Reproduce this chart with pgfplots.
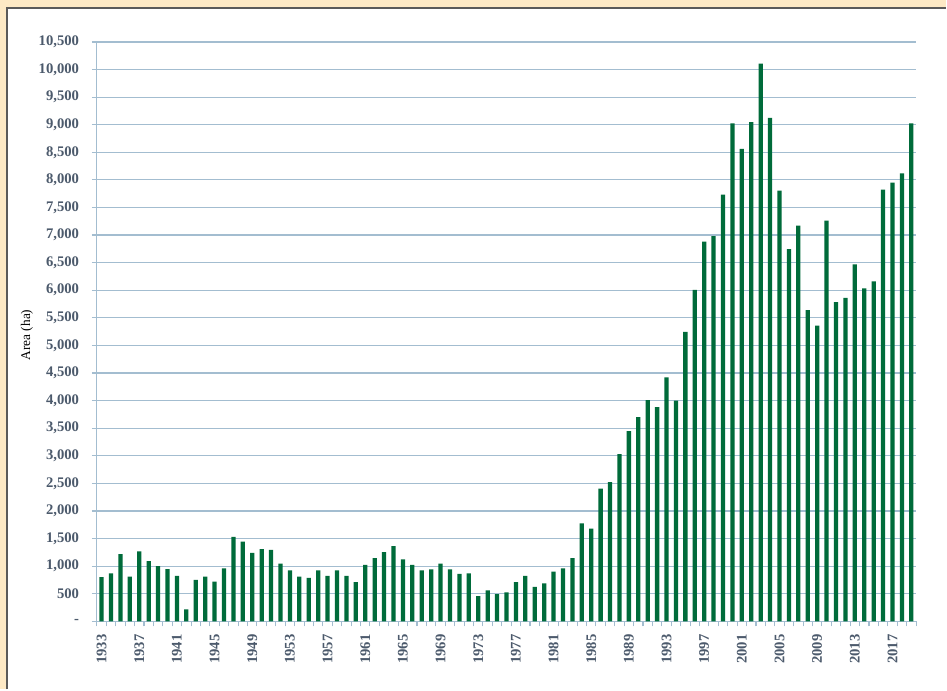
\documentclass[border=0pt]{standalone}
\usepackage{fontspec}
\setmainfont{Liberation Serif}
\usepackage{pgfplots}
\pgfplotsset{compat=1.18}
\definecolor{peach}{HTML}{FDE9C5}
\definecolor{barg}{HTML}{006B3A}
\definecolor{gridc}{HTML}{A3BDD0}
\definecolor{labc}{HTML}{4C5A6C}
\definecolor{frame}{HTML}{5A5A5A}
\begin{document}
\begin{tikzpicture}
\path[fill=peach] (-72.75pt,-51pt) rectangle (637.5pt,466.5pt);
\path[fill=white] (-67.5pt,-51pt) rectangle (637.5pt,460.5pt);
\draw[frame, line width=1.5pt] (-67.5pt,-51pt) -- (-67.5pt,460.5pt) -- (637.5pt,460.5pt);
\begin{axis}[
  at={(0,0)}, anchor=origin,
  scale only axis,
  width=615pt, height=435pt,
  xmin=1932.5, xmax=2019.5,
  ymin=0, ymax=10500,
  scaled y ticks=false,
  axis x line*=bottom, axis y line*=left,
  axis line style={gridc, line width=0.9pt},
  ybar, bar width=3.2pt,
  ytick={0,500,...,10500},
  yticklabels={-,500,{1,000},{1,500},{2,000},{2,500},{3,000},{3,500},{4,000},{4,500},{5,000},{5,500},{6,000},{6,500},{7,000},{7,500},{8,000},{8,500},{9,000},{9,500},{10,000},{10,500}},
  xtick={1933,1937,...,2017},
  xticklabels={1933,1937,1941,1945,1949,1953,1957,1961,1965,1969,1973,1977,1981,1985,1989,1993,1997,2001,2005,2009,2013,2017},
  minor xtick={1932.5,1933.5,...,2019.5},
  xtick style={draw=none},
  minor x tick style={draw=gridc, line width=0.8pt},
  ytick style={draw=gridc, line width=0.9pt},
  tick align=outside,
  major tick length=3.75pt, minor tick length=3.75pt,
  ymajorgrids, grid style={gridc, line width=0.9pt},
  /pgf/number format/assume math mode=true,
  yticklabel style={font=\fontsize{11}{13}\selectfont\bfseries, text=labc, inner sep=0pt, xshift=-9.5pt},
  xticklabel style={font=\fontsize{11}{13}\selectfont\bfseries, text=labc, rotate=90, anchor=east, inner sep=0pt, xshift=-6pt},
  ylabel={Area (ha)},
  ylabel style={font=\fontsize{9.5}{11}\selectfont\bfseries, text=black!75},
  every axis y label/.style={at={(-52.5pt,215pt)}, rotate=90, anchor=center},
  clip=false,
]
\addplot[fill=barg, draw=none] table[x=year,y=area] {
year area
1933 800
1934 870
1935 1220
1936 810
1937 1270
1938 1090
1939 1000
1940 945
1941 825
1942 215
1943 750
1944 810
1945 720
1946 960
1947 1530
1948 1445
1949 1240
1950 1310
1951 1295
1952 1045
1953 925
1954 810
1955 790
1956 925
1957 825
1958 925
1959 825
1960 710
1961 1025
1962 1145
1963 1255
1964 1365
1965 1125
1966 1025
1967 925
1968 940
1969 1045
1970 940
1971 860
1972 870
1973 455
1974 560
1975 495
1976 525
1977 710
1978 825
1979 625
1980 690
1981 900
1982 960
1983 1145
1984 1775
1985 1680
1986 2405
1987 2525
1988 3030
1989 3445
1990 3700
1991 4010
1992 3880
1993 4420
1994 4000
1995 5245
1996 6005
1997 6880
1998 6980
1999 7735
2000 9025
2001 8560
2002 9045
2003 10105
2004 9125
2005 7805
2006 6745
2007 7170
2008 5640
2009 5360
2010 7260
2011 5785
2012 5860
2013 6470
2014 6035
2015 6160
2016 7825
2017 7950
2018 8120
2019 9025
};
\end{axis}
\end{tikzpicture}
\end{document}
